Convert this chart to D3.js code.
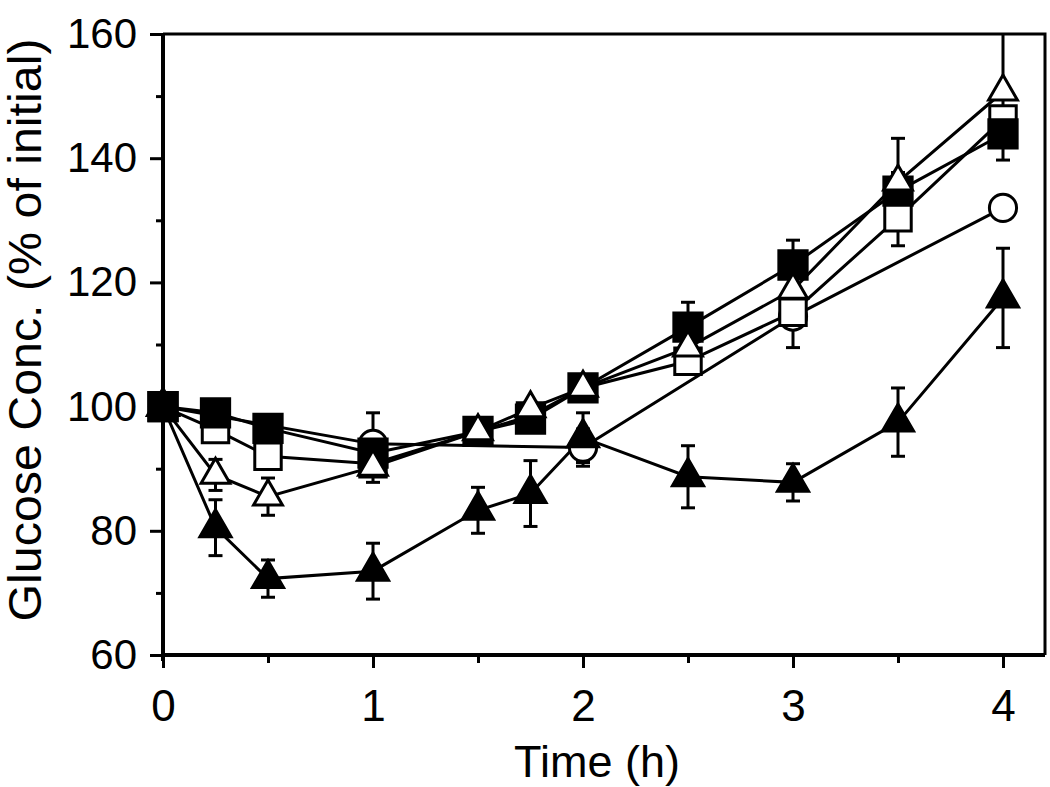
<!DOCTYPE html>
<html>
<head>
<meta charset="utf-8">
<script src="https://cdn.jsdelivr.net/npm/d3@7"></script>
<style>
  html, body { margin: 0; padding: 0; background: #fff; }
  svg { display: block; }
  text { font-family: "Liberation Sans", Arial, sans-serif; fill: #000; }
</style>
</head>
<body>
<svg id="chart" width="1050" height="787"></svg>
<script>
// ---- data ----
const times = [0, 0.25, 0.5, 1, 1.5, 1.75, 2, 2.5, 3, 3.5, 4];
const circleTimes = [0, 1, 2, 3, 4];

const filledSquare    = [100, 99.0, 96.5, 92.5, 96.0, 98.0, 103.0, 112.8, 122.8, 134.7, 143.9];
const filledSquareErr = [0, 1, 1.5, 1.5, 1, 1, 1, 4, 4, 3, 2];

const openSquare      = [100, 96.3, 92.0, 90.8, 96.0, 98.5, 103.0, 107.3, 115.2, 130.4, 146.3];
const openSquareErr   = [0, 1, 1.5, 1.5, 1, 1, 1, 1.5, 2, 4.5, 2];

const openTriangle    = [100, 89.0, 85.5, 90.3, 96.0, 99.7, 103.0, 109.5, 118.8, 136.2, 150.7];
const openTriangleErr = [0, 2.5, 3, 2.5, 1, 1, 1, 2, 3, 7, 11];

const openCircle      = [100, 94.0, 93.4, 114.5, 132.0];
const openCircleErr   = [0, 5, 3, 5, 1.5];

const filledTriangle    = [100, 80.5, 72.3, 73.5, 83.3, 86.0, 95.0, 88.7, 87.8, 97.5, 117.5];
const filledTriangleErr = [0, 4.5, 3, 4.5, 3.7, 5.3, 4, 5, 3, 5.5, 8];

const xTicks = [0, 1, 2, 3, 4];
const xMinorTicks = [0.5, 1.5, 2.5, 3.5];
const yTicks = [60, 80, 100, 120, 140, 160];
const yMinorTicks = [70, 90, 110, 130, 150];

const xLabel = "Time (h)";
const yLabel = "Glucose Conc. (% of initial)";

// ---- layout ----
const svg = d3.select("#chart");
const mLeft = 163, mRight = 1045, mTop = 34, mBottom = 655;

const x = d3.scaleLinear().domain([0, 4.2]).range([mLeft, mRight]);
const y = d3.scaleLinear().domain([60, 160]).range([mBottom, mTop]);

svg.append("defs").append("clipPath").attr("id", "plotclip")
  .append("rect").attr("x", mLeft).attr("y", mTop).attr("width", mRight - mLeft).attr("height", mBottom - mTop);

// frame (top + right)
svg.append("path")
  .attr("d", `M${mLeft},${mTop}H${mRight}V${mBottom}`)
  .attr("fill", "none").attr("stroke", "#000").attr("stroke-width", 3);

// axes
const xAxis = svg.append("g").attr("transform", `translate(0,${mBottom})`)
  .call(d3.axisBottom(x).tickValues(xTicks).tickSize(13).tickPadding(22).tickFormat(d3.format("d")));
const xMinor = svg.append("g").attr("transform", `translate(0,${mBottom})`)
  .call(d3.axisBottom(x).tickValues(xMinorTicks).tickSize(8).tickFormat(""));
const yAxis = svg.append("g").attr("transform", `translate(${mLeft},0)`)
  .call(d3.axisLeft(y).tickValues(yTicks).tickSize(13).tickPadding(13).tickFormat(d3.format("d")));
const yMinor = svg.append("g").attr("transform", `translate(${mLeft},0)`)
  .call(d3.axisLeft(y).tickValues(yMinorTicks).tickSize(7).tickFormat(""));

[xAxis, xMinor, yAxis, yMinor].forEach(g => {
  g.select(".domain").remove();
  g.selectAll(".tick line").attr("stroke", "#000").attr("stroke-width", 3);
});
xAxis.selectAll("text").attr("font-size", 44).attr("font-family", "Liberation Sans, Arial, sans-serif").attr("fill", "#000");
yAxis.selectAll("text").attr("font-size", 42).attr("font-family", "Liberation Sans, Arial, sans-serif").attr("fill", "#000");

svg.append("line").attr("x1", mLeft).attr("x2", mRight).attr("y1", mBottom).attr("y2", mBottom)
  .attr("stroke", "#000").attr("stroke-width", 4);
svg.append("line").attr("x1", mLeft).attr("x2", mLeft).attr("y1", mTop).attr("y2", mBottom + 6)
  .attr("stroke", "#000").attr("stroke-width", 4);

// axis titles
svg.append("text").attr("x", 597).attr("y", 777).attr("text-anchor", "middle")
  .attr("font-size", 45).text(xLabel);
svg.append("text").attr("transform", "translate(41,330) rotate(-90)")
  .attr("text-anchor", "middle").attr("font-size", 46)
  .attr("textLength", 583).attr("lengthAdjust", "spacingAndGlyphs").text(yLabel);

// ---- series ----
const plot = svg.append("g").attr("clip-path", "url(#plotclip)");
const markersTop = svg.append("g");
const line = d3.line().x(d => x(d.t)).y(d => y(d.v));

function makeSeries(ts, vs, es) { return ts.map((t, i) => ({ t, v: vs[i], e: es[i] })); }

const series = [
  { data: makeSeries(circleTimes, openCircle, openCircleErr), shape: d3.symbolCircle, size: 580, fill: "#fff" },
  { data: makeSeries(times, openSquare, openSquareErr), shape: d3.symbolSquare, size: 700, fill: "#fff" },
  { data: makeSeries(times, filledSquare, filledSquareErr), shape: d3.symbolSquare, size: 800, fill: "#000" },
  { data: makeSeries(times, openTriangle, openTriangleErr), shape: d3.symbolTriangle, size: 360, fill: "#fff" },
  { data: makeSeries(times, filledTriangle, filledTriangleErr), shape: d3.symbolTriangle, size: 420, fill: "#000" }
];

// lines first
series.forEach(s => {
  plot.append("path").datum(s.data).attr("d", line)
    .attr("fill", "none").attr("stroke", "#000").attr("stroke-width", 3);
});

// error bars + markers per series
series.forEach(s => {
  const g = plot.append("g");
  const eb = g.selectAll(".eb").data(s.data.filter(d => d.e > 0)).join("g");
  eb.append("line")
    .attr("x1", d => x(d.t)).attr("x2", d => x(d.t))
    .attr("y1", d => y(d.v - d.e)).attr("y2", d => y(d.v + d.e))
    .attr("stroke", "#000").attr("stroke-width", 3);
  eb.append("line")
    .attr("x1", d => x(d.t) - 7).attr("x2", d => x(d.t) + 7)
    .attr("y1", d => y(d.v + d.e)).attr("y2", d => y(d.v + d.e))
    .attr("stroke", "#000").attr("stroke-width", 3);
  eb.append("line")
    .attr("x1", d => x(d.t) - 7).attr("x2", d => x(d.t) + 7)
    .attr("y1", d => y(d.v - d.e)).attr("y2", d => y(d.v - d.e))
    .attr("stroke", "#000").attr("stroke-width", 3);
  markersTop.append("g").selectAll(".mk").data(s.data).join("path")
    .attr("d", d3.symbol(s.shape, s.size))
    .attr("transform", d => `translate(${x(d.t)},${y(d.v)})`)
    .attr("fill", s.fill).attr("stroke", "#000").attr("stroke-width", 3);
});

// the shared starting point (t = 0) shows the filled square on top
const fs = series[2];
markersTop.append("g").selectAll(".mk0").data(fs.data.filter(d => d.t === 0)).join("path")
  .attr("d", d3.symbol(fs.shape, fs.size))
  .attr("transform", d => `translate(${x(d.t)},${y(d.v)})`)
  .attr("fill", fs.fill).attr("stroke", "#000").attr("stroke-width", 3);
</script>
</body>
</html>
